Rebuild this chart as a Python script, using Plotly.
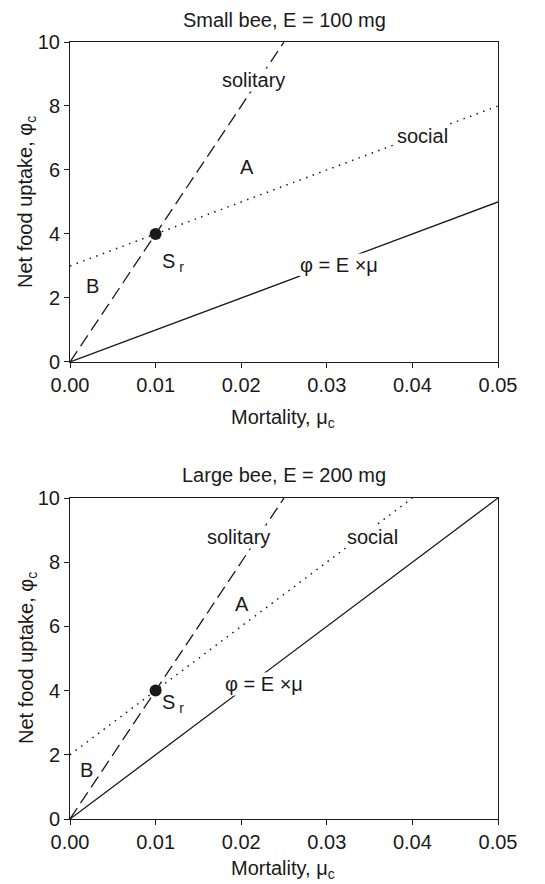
import plotly.graph_objects as go
from plotly.subplots import make_subplots

# ---- data ----
titles = ["Small bee, E = 100 mg", "Large bee, E = 200 mg"]

sol_x = [0.0, 0.025]
sol_y = [0.0, 10.0]

small_social_x = [0.0, 0.05]
small_social_y = [3.0, 8.0]
small_null_x = [0.0, 0.05]
small_null_y = [0.0, 5.0]

large_social_x = [0.0, 0.04]
large_social_y = [2.0, 10.0]
large_null_x = [0.0, 0.05]
large_null_y = [0.0, 10.0]

sr_x = [0.01]
sr_y = [4.0]

x_ticks = [0.0, 0.01, 0.02, 0.03, 0.04, 0.05]
x_ticktext = ["0.00", "0.01", "0.02", "0.03", "0.04", "0.05"]
y_ticks = [0, 2, 4, 6, 8, 10]

FONT = "Arial, Liberation Sans, sans-serif"
INK = "#1a1a1a"

fig = make_subplots(rows=2, cols=1, vertical_spacing=0.0)

panels = [
    (small_social_x, small_social_y, small_null_x, small_null_y),
    (large_social_x, large_social_y, large_null_x, large_null_y),
]
for i, (sx, sy, nx, ny) in enumerate(panels, start=1):
    fig.add_trace(go.Scatter(x=sol_x, y=sol_y, mode="lines",
                             line=dict(color=INK, width=1.3, dash="13px,6px")),
                  row=i, col=1)
    fig.add_trace(go.Scatter(x=sx, y=sy, mode="lines",
                             line=dict(color=INK, width=1.5, dash="1.5px,5.5px")),
                  row=i, col=1)
    fig.add_trace(go.Scatter(x=nx, y=ny, mode="lines",
                             line=dict(color=INK, width=1.3)),
                  row=i, col=1)
    fig.add_trace(go.Scatter(x=sr_x, y=sr_y, mode="markers",
                             marker=dict(color=INK, size=12)),
                  row=i, col=1)

axis_common = dict(showline=True, linecolor=INK, linewidth=1, mirror=True,
                   ticks="outside", ticklen=5, tickcolor=INK, showgrid=False,
                   zeroline=False, automargin=False,
                   tickfont=dict(family=FONT, size=20, color=INK))

for xa, ya in [("xaxis", "yaxis"), ("xaxis2", "yaxis2")]:
    fig.layout[xa].update(range=[0, 0.05], tickvals=x_ticks, ticktext=x_ticktext,
                          **axis_common)
    fig.layout[ya].update(range=[0, 10], tickvals=y_ticks, **axis_common)

fig.layout.yaxis.domain = [0.5882, 1.0]
fig.layout.yaxis2.domain = [0.0, 0.4131]

ann = []
def lab(text, x, y, xr, yr, bg=True):
    ann.append(dict(text=text, x=x, y=y, xref=xr, yref=yr, showarrow=False,
                    font=dict(family=FONT, size=20, color=INK),
                    bgcolor="white" if bg else "rgba(0,0,0,0)", borderpad=0))

# top panel labels
lab("solitary", 0.02138, 8.81, "x", "y")
lab("social", 0.04118, 7.06, "x", "y")
lab("A", 0.02068, 6.09, "x", "y", bg=False)
lab("B", 0.00257, 2.37, "x", "y", bg=False)
lab("S<sub> r</sub>", 0.01203, 3.12, "x", "y", bg=False)
lab("φ = E ×μ", 0.03143, 3.03, "x", "y")
# bottom panel labels
lab("solitary", 0.01963, 8.78, "x2", "y2")
lab("social", 0.03528, 8.78, "x2", "y2")
lab("A", 0.0201, 6.70, "x2", "y2", bg=False)
lab("B", 0.00187, 1.53, "x2", "y2", bg=False)
lab("S<sub> r</sub>", 0.01203, 3.61, "x2", "y2", bg=False)
lab("φ = E ×μ", 0.02266, 4.21, "x2", "y2")

def py2paper(py):
    return 1 - (py - 42) / 777

# panel titles
for t, py in zip(titles, [20, 475]):
    ann.append(dict(text=t, x=0.5, xref="paper", y=py2paper(py),
                    yref="paper", showarrow=False, yanchor="middle",
                    font=dict(family=FONT, size=20, color=INK)))

# axis titles
for py in [418, 869]:
    ann.append(dict(text="Mortality, μ<sub>c</sub>", x=0.4977, xref="paper",
                    y=py2paper(py), yref="paper", showarrow=False,
                    yanchor="middle", font=dict(family=FONT, size=20, color=INK)))
for py in [202, 658]:
    ann.append(dict(text="Net food uptake, φ<sub>c</sub>", x=-0.1005, xref="paper",
                    y=py2paper(py), yref="paper", showarrow=False, textangle=-90,
                    xanchor="center", yanchor="middle",
                    font=dict(family=FONT, size=20, color=INK)))

fig.update_layout(
    width=545, height=884,
    margin=dict(l=70, r=47, t=42, b=65),
    paper_bgcolor="white", plot_bgcolor="white",
    showlegend=False, annotations=ann,
)

fig.write_html("out.html")
